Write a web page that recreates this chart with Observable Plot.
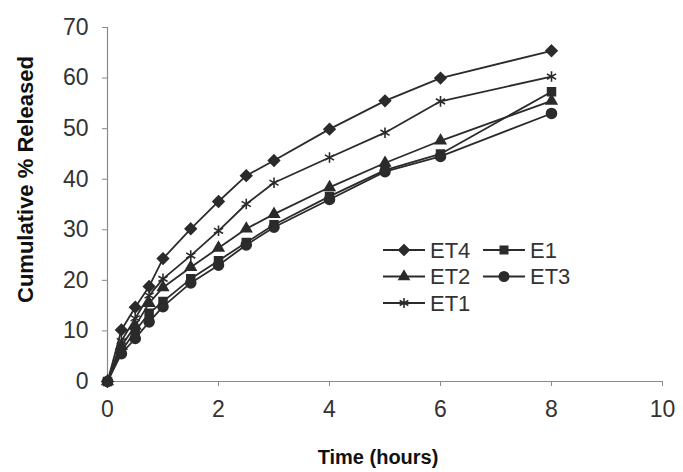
<!DOCTYPE html>
<html>
<head>
<meta charset="utf-8">
<script src="https://cdn.jsdelivr.net/npm/d3@7"></script>
<script src="https://cdn.jsdelivr.net/npm/@observablehq/plot@0.6"></script>
<style>
  html, body { margin: 0; padding: 0; background: #fff; }
  #chart { width: 683px; height: 472px; }
  svg { font-family: Arial, "Liberation Sans", sans-serif; }
</style>
</head>
<body>
<div id="chart"></div>
<script>
const time = [0, 0.25, 0.5, 0.75, 1, 1.5, 2, 2.5, 3, 4, 5, 6, 8];
const seriesNames = ["ET4", "E1", "ET2", "ET3", "ET1"];
const seriesSymbols = ["diamond2", "square2", "triangle2", "circle", "asterisk"];
const ET4 = [0, 10.2, 14.7, 18.8, 24.3, 30.2, 35.6, 40.7, 43.7, 49.9, 55.5, 60.0, 65.4];
const E1  = [0, 6.0, 10.0, 13.5, 15.8, 20.3, 23.9, 27.5, 31.0, 36.6, 41.8, 45.0, 57.3];
const ET2 = [0, 7.0, 11.0, 15.5, 18.6, 22.6, 26.4, 30.2, 33.1, 38.4, 43.2, 47.6, 55.5];
const ET3 = [0, 5.5, 8.5, 11.8, 14.8, 19.5, 23.0, 27.0, 30.5, 36.0, 41.5, 44.5, 53.0];
const ET1 = [0, 8.0, 12.5, 17.0, 20.3, 24.9, 29.8, 35.1, 39.3, 44.3, 49.2, 55.4, 60.3];
const xTicks = [0, 2, 4, 6, 8, 10];
const yTicks = [0, 10, 20, 30, 40, 50, 60, 70];
const xLabel = "Time (hours)";
const yLabel = "Cumulative % Released";

const valuesBySeries = {ET4, E1, ET2, ET3, ET1};
const data = [];
seriesNames.forEach((s, i) => {
  valuesBySeries[s].forEach((v, j) => data.push({series: s, time: time[j], value: v, symbol: seriesSymbols[i]}));
});

const ink = "#2b2b2b";
const axisGray = "#8a8a8a";

const plot = Plot.plot({
  width: 683,
  height: 472,
  marginLeft: 107,
  marginRight: 21,
  marginTop: 27,
  marginBottom: 91,
  style: {background: "#fff", color: "#333"},
  x: {domain: [0, 10]},
  y: {domain: [0, 70]},
  symbol: {domain: seriesNames, range: seriesSymbols},
  marks: [
    Plot.ruleY([0], {stroke: axisGray, strokeWidth: 1.2}),
    Plot.ruleX([0], {stroke: axisGray, strokeWidth: 1.2}),
    Plot.axisX({ticks: xTicks, tickSize: 5, tickPadding: 14, fontSize: 23, stroke: axisGray, label: null, tickFormat: d => String(d)}),
    Plot.axisY({ticks: yTicks, tickSize: 5, tickPadding: 14, fontSize: 23, stroke: axisGray, label: null, tickFormat: d => String(d)}),
    Plot.text([xLabel], {frameAnchor: "bottom", text: d => d, dx: -7, dy: 76, fontSize: 20, fontWeight: "bold", fill: "#111", lineAnchor: "middle"}),
    Plot.text([yLabel], {frameAnchor: "left", text: d => d, rotate: -90, dx: -82, dy: -25, fontSize: 22, fontWeight: "bold", fill: "#111", lineAnchor: "middle", textAnchor: "middle"}),
    Plot.line(data, {x: "time", y: "value", z: "series", stroke: ink, strokeWidth: 1.8}),
    Plot.dot(data, {x: "time", y: "value", symbol: "series", fill: ink, stroke: ink, strokeWidth: 1.6, r: 5})
  ]
});

document.getElementById("chart").appendChild(plot);

// Legend drawn inside the SVG
const svg = d3.select(plot);
const leg = svg.append("g").attr("aria-label", "legend").attr("text-anchor", "start");
const legendItems = [
  {name: "ET4", sym: d3.symbolDiamond2, col: 0, row: 0},
  {name: "E1",  sym: d3.symbolSquare2,  col: 1, row: 0},
  {name: "ET2", sym: d3.symbolTriangle2, col: 0, row: 1},
  {name: "ET3", sym: d3.symbolCircle,   col: 1, row: 1},
  {name: "ET1", sym: d3.symbolAsterisk, col: 0, row: 2}
];
legendItems.forEach(it => {
  const x0 = 383 + it.col * 100;
  const y0 = 250 + it.row * 26.5;
  const g = leg.append("g");
  g.append("line").attr("x1", x0).attr("x2", x0 + 42).attr("y1", y0).attr("y2", y0).attr("stroke", ink).attr("stroke-width", 1.8);
  g.append("path").attr("d", d3.symbol(it.sym, 70)()).attr("transform", `translate(${x0 + 21},${y0})`).attr("fill", ink).attr("stroke", ink).attr("stroke-width", 1.6);
  g.append("text").attr("x", x0 + 47).attr("y", y0).attr("dy", "0.36em").attr("font-size", 22).attr("fill", "#333").attr("text-anchor", "start").text(it.name);
});
</script>
</body>
</html>
